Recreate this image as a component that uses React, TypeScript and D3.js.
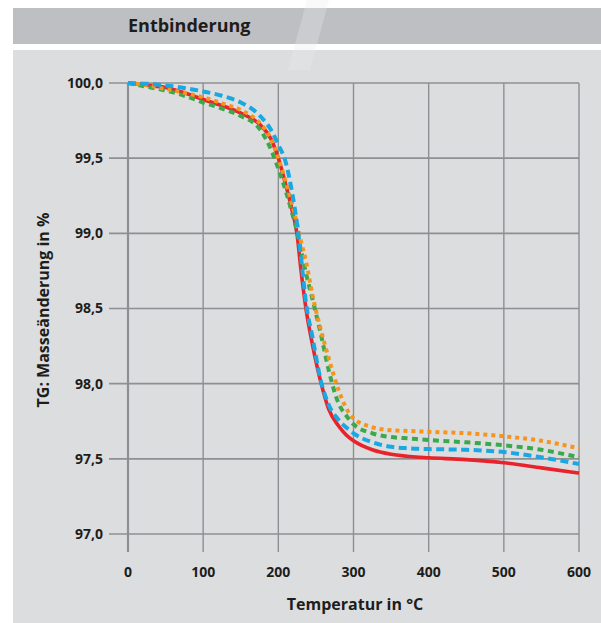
import { useMemo } from "react";
import * as d3 from "d3";

// temperature sample points (°C)
const temps = [0, 25, 50, 75, 100, 125, 150, 175, 190, 200, 210, 218, 225, 230, 237, 245, 257, 267, 280, 290, 300, 325, 350, 375, 400, 450, 500, 550, 600];

// mass change in % for each sample
const red = [100, 99.985, 99.97, 99.935, 99.89, 99.85, 99.8, 99.725, 99.63, 99.5, 99.32, 99.16, 98.99, 98.76, 98.49, 98.27, 98.0, 97.83, 97.72, 97.66, 97.62, 97.56, 97.53, 97.515, 97.507, 97.495, 97.474, 97.44, 97.405];
const blue = [100, 99.995, 99.984, 99.967, 99.944, 99.915, 99.87, 99.785, 99.69, 99.59, 99.47, 99.28, 99.06, 98.85, 98.53, 98.32, 98.01, 97.86, 97.76, 97.71, 97.67, 97.61, 97.58, 97.57, 97.565, 97.56, 97.545, 97.51, 97.465];
const green = [100, 99.975, 99.95, 99.915, 99.87, 99.83, 99.78, 99.695, 99.56, 99.43, 99.28, 99.14, 99.01, 98.89, 98.73, 98.57, 98.32, 98.09, 97.87, 97.79, 97.73, 97.67, 97.645, 97.635, 97.625, 97.61, 97.59, 97.56, 97.51];
const orange = [100, 99.985, 99.96, 99.935, 99.905, 99.865, 99.82, 99.735, 99.63, 99.5, 99.34, 99.2, 99.06, 98.95, 98.81, 98.6, 98.35, 98.17, 97.96, 97.84, 97.77, 97.71, 97.69, 97.685, 97.68, 97.67, 97.65, 97.62, 97.57];

const xTicks = [0, 100, 200, 300, 400, 500, 600];
const yTicks = [97, 97.5, 98, 98.5, 99, 99.5, 100];

const font = "'Open Sans', 'DejaVu Sans', sans-serif";

export default function App() {
    const width = 601;
    const height = 623;

    const xScale = useMemo(() => d3.scaleLinear().domain([0, 600]).range([128, 579]), []);
    const yScale = useMemo(() => d3.scaleLinear().domain([97, 100]).range([534, 83]), []);

    const line = d3
        .line<number>()
        .x((_, i) => xScale(temps[i]))
        .y((d) => yScale(d))
        .curve(d3.curveMonotoneX);

    const series = [
        { values: red, color: "#e8232b", dash: undefined, w: 3.6 },
        { values: green, color: "#3aa94a", dash: "6 4.5", w: 4 },
        { values: orange, color: "#f7941e", dash: "4 4", w: 4 },
        { values: blue, color: "#1aa8e2", dash: "8 4.5", w: 4 },
    ];

    const fmt = (v: number) => v.toFixed(1).replace(".", ",");

    return (
        <svg width={width} height={height} style={{ position: "absolute", left: 0, top: 0 }} fontFamily={font}>
            <rect x={0} y={0} width={width} height={height} fill="#ffffff" />
            <rect x={13} y={8} width={588} height={36} fill="#bebfc2" />
            <rect x={13} y={50} width={588} height={573} fill="#dcdddf" />
            {/* faint watermark stripe */}
            <polygon points="307,0 329,0 310,70 288,70" fill="#ececee" opacity={0.3} />
            <text x={128} y={32} fontSize={18} fontWeight={700} fill="#1d1d1b">Entbinderung</text>

            {/* horizontal grid with tick stubs */}
            {yTicks.map((t) => (
                <g key={`y-${t}`}>
                    <line x1={109} x2={579} y1={yScale(t)} y2={yScale(t)} stroke="#8e8f92" strokeWidth={1.6} />
                    <text x={103} y={yScale(t)} dy="0.35em" textAnchor="end" fontSize={14} fontWeight={700} fill="#1d1d1b">{fmt(t)}</text>
                </g>
            ))}

            {/* vertical grid */}
            {xTicks.map((t) => (
                <g key={`x-${t}`}>
                    <line x1={xScale(t)} x2={xScale(t)} y1={83} y2={552} stroke="#8e8f92" strokeWidth={t === 0 ? 2.2 : 1.4} />
                    <text x={xScale(t)} y={577} textAnchor="middle" fontSize={14} fontWeight={700} fill="#1d1d1b">{t}</text>
                </g>
            ))}

            {series.map((s, i) => (
                <path key={i} d={line(s.values) ?? ""} fill="none" stroke={s.color} strokeWidth={s.w} strokeDasharray={s.dash} />
            ))}

            <text x={355} y={610} textAnchor="middle" fontSize={16} fontWeight={700} fill="#1d1d1b">Temperatur in °C</text>
            <text transform="translate(49,310) rotate(-90)" textAnchor="middle" fontSize={16} fontWeight={700} fill="#1d1d1b">TG: Masseänderung in %</text>
        </svg>
    );
}
